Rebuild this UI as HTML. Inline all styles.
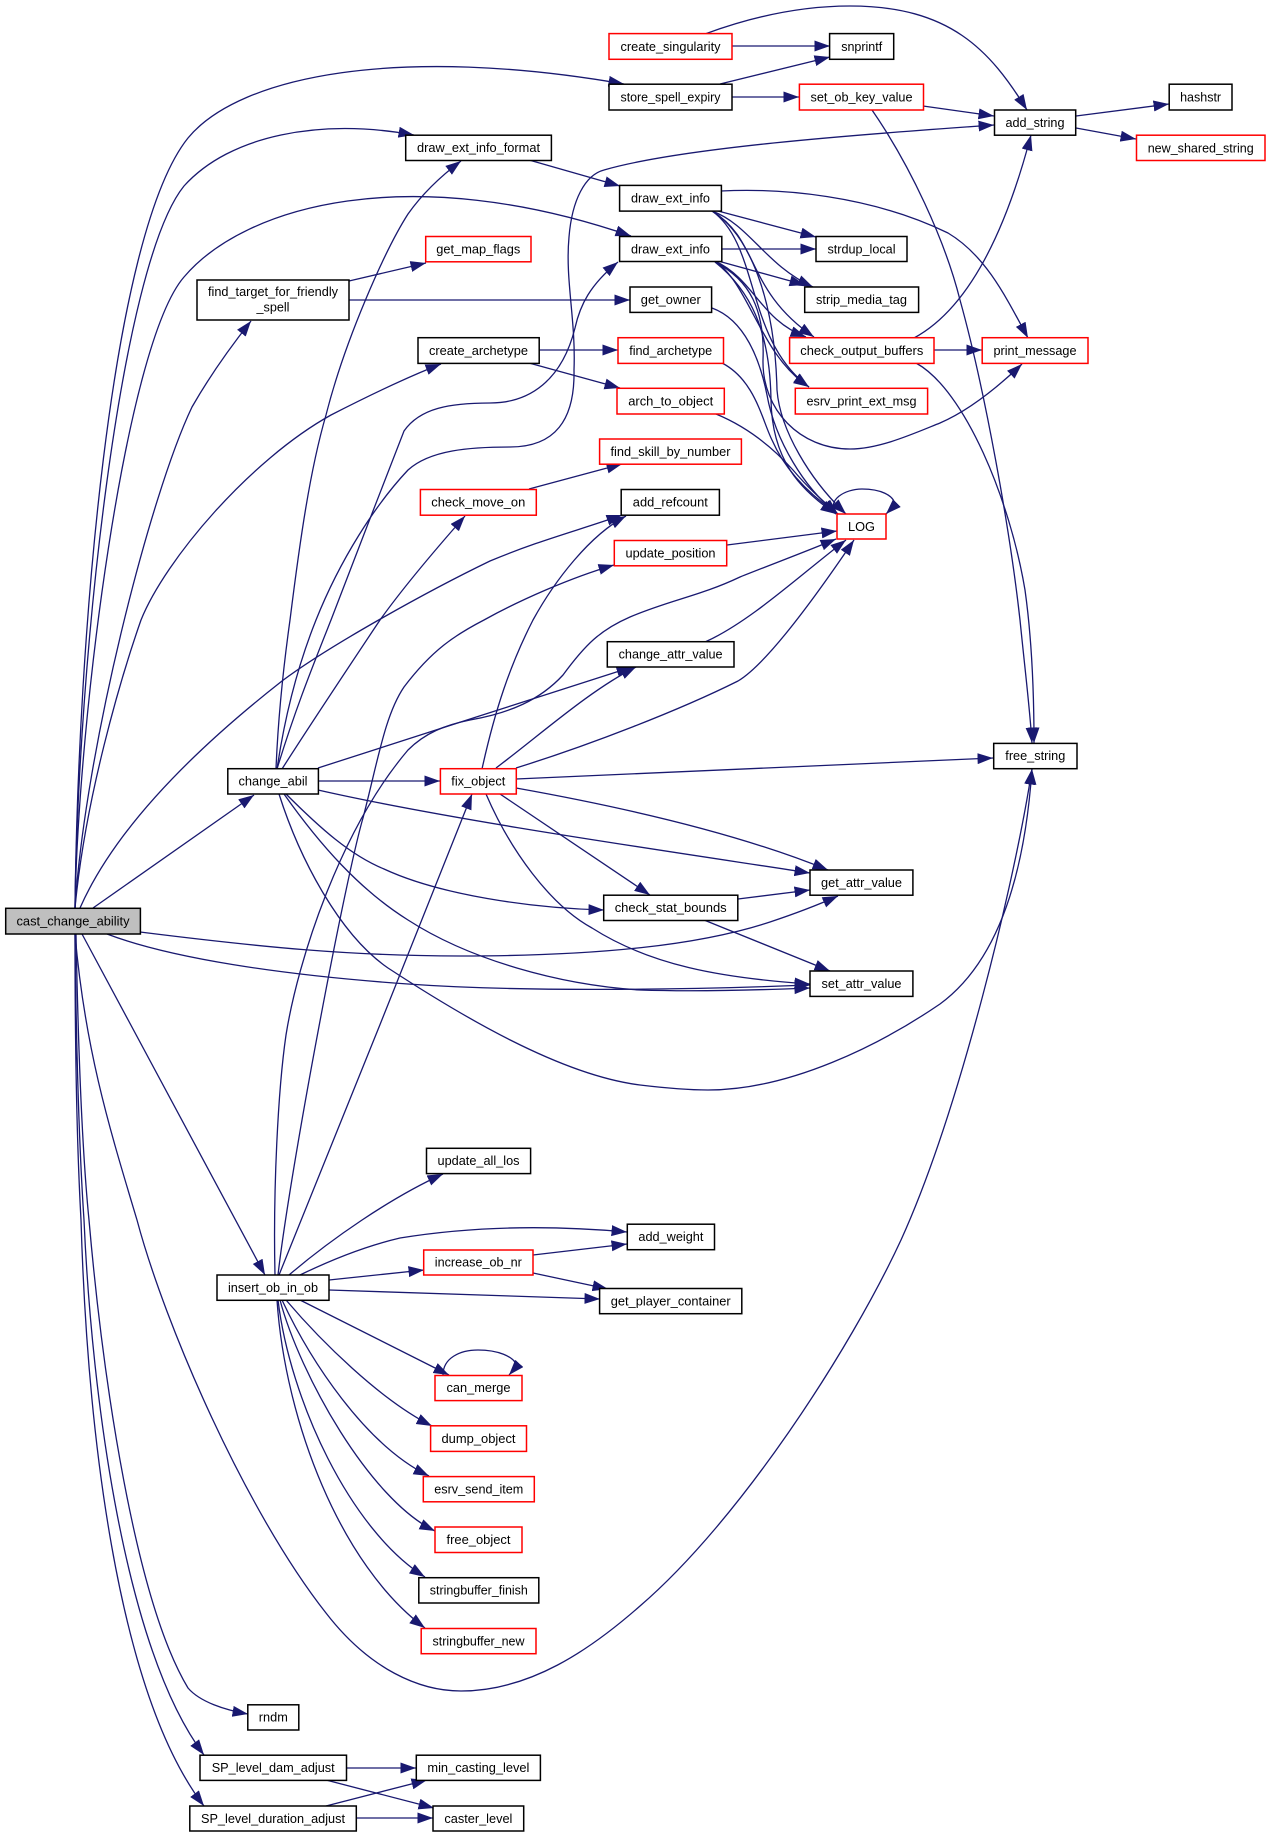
<!DOCTYPE html>
<html>
<head>
<meta charset="utf-8">
<style>
html,body{margin:0;padding:0;background:#fff;width:1269px;height:1837px;overflow:hidden}
svg{display:block;filter:blur(0.35px)}
.e path{fill:none;stroke:#191970;stroke-width:1.3;marker-end:url(#a)}
.n rect{fill:#fff;stroke:#000;stroke-width:1.5}
.r rect{fill:#fff;stroke:#ff0000;stroke-width:1.5}
text{font-family:"Liberation Sans",sans-serif;font-size:13.3px;fill:#000;text-anchor:middle}
</style>
</head>
<body>
<svg xmlns="http://www.w3.org/2000/svg" width="1269" height="1837" viewBox="0 0 1269 1837">
<defs>
<marker id="a" markerUnits="userSpaceOnUse" markerWidth="17" markerHeight="12" refX="15.5" refY="5.5" orient="auto">
<path d="M0 0L15.5 5.5L0 11Z" fill="#191970"/>
</marker>
</defs>
<g class="e">
<!-- cast_change_ability -->
<path d="M75 908C78 640 110 235 188 138C240 75 400 45 624 84"/>
<path d="M75 908C78 660 120 265 184 186C230 135 320 118 414 135"/>
<path d="M75 908C78 720 125 345 184 277C245 205 410 160 631 236"/>
<path d="M75 908C85 750 150 495 192 407C212 372 232 345 251 321"/>
<path d="M75 908C85 800 120 680 141 620C165 560 250 460 331 415C370 395 405 378 441 364"/>
<path d="M80 908C110 840 175 765 282 681C330 645 430 590 490 561C540 540 580 530 622 515"/>
<path d="M93 908L254 795"/>
<path d="M140 932C260 947 350 956 460 956C600 956 700 945 770 922C800 912 820 904 838 896"/>
<path d="M107 934C170 958 280 975 408 984C520 992 680 990 810 985"/>
<path d="M82 934L265 1275"/>
<path d="M75 934C85 1050 110 1130 137 1220C165 1325 245 1510 326 1613C370 1670 420 1691 461 1691C530 1691 590 1650 640 1606C740 1520 850 1350 901 1240C960 1110 1015 880 1032 769"/>
<path d="M76 934C78 1040 82 1150 89 1220C103 1380 135 1600 188 1688C200 1702 225 1710 248 1714"/>
<path d="M75 934C76 1030 78 1130 84 1220C92 1400 125 1650 204 1755"/>
<path d="M75 934C75 1030 76 1130 81 1220C87 1420 115 1690 204 1806"/>
<!-- change_abil -->
<path d="M276 769C278 720 283 670 290 620C300 540 310 470 326 415C345 340 385 250 408 214C425 190 445 173 461 161"/>
<path d="M277 769C295 710 312 668 331 620C350 570 385 480 404 431C420 408 450 403 490 403C530 403 562 380 575 328C580 305 590 285 618 262"/>
<path d="M277 769C285 715 298 665 316 620C340 560 375 505 408 470C430 450 470 447 510 447C555 447 575 420 574 370C576 320 565 280 569 237C572 200 585 175 604 170C680 148 850 135 994 125"/>
<path d="M282 769C310 725 350 665 380 620C405 585 435 550 465 516"/>
<path d="M318 768C380 748 560 690 632 667"/>
<path d="M318 781L440 781"/>
<path d="M318 790C450 820 660 850 810 873"/>
<path d="M286 794C320 828 350 855 384 869C440 895 530 908 604 910"/>
<path d="M284 794C320 845 360 890 408 920C470 960 560 985 640 990C700 992 760 990 810 988"/>
<path d="M279 794C300 860 340 935 388 968C460 1015 560 1075 640 1085C665 1088 690 1090 708 1090C790 1090 880 1045 940 1004C1000 960 1025 870 1032 769"/>
<!-- fix_object -->
<path d="M482 769C495 710 510 665 533 620C555 580 590 535 626 516"/>
<path d="M496 768C540 735 590 690 636 667"/>
<path d="M516 768C590 745 680 710 738 681C765 665 810 605 854 540"/>
<path d="M516 779L993 758"/>
<path d="M516 788C600 803 730 830 828 870"/>
<path d="M500 794L650 895"/>
<path d="M486 794C510 850 550 905 592 928C650 965 720 978 810 984"/>
<path d="M705 642C750 622 800 575 846 540"/>
<!-- insert_ob_in_ob -->
<path d="M279 1275C310 1200 430 900 472 794"/>
<path d="M278 1275C290 1170 345 880 363 818C378 760 385 715 404 687C432 650 455 635 484 620C520 600 570 578 614 565"/>
<path d="M275 1275C273 1190 278 1090 286 1035C298 960 340 830 408 750C425 733 445 725 470 720C510 713 540 700 563 675C585 645 600 630 630 617C670 600 700 596 740 577C770 565 810 550 836 539"/>
<path d="M289 1275C330 1240 390 1198 443 1174"/>
<path d="M300 1275C335 1258 370 1245 400 1238C480 1225 560 1226 627 1232"/>
<path d="M533 1255L627 1244"/>
<path d="M329 1280L424 1270"/>
<path d="M329 1290L600 1299"/>
<path d="M533 1273L608 1289"/>
<path d="M300 1300L449 1375"/>
<path d="M286 1300C320 1340 380 1400 432 1426"/>
<path d="M282 1300C310 1360 365 1445 429 1476"/>
<path d="M280 1300C300 1375 370 1500 435 1531"/>
<path d="M278 1300C290 1400 350 1530 425 1577"/>
<path d="M277 1300C285 1420 340 1565 425 1628"/>
<path d="M443 1375C443 1358 460 1350 478 1350C497 1350 514 1356 517 1366L509 1375"/>
<!-- SP -->
<path d="M346 1768L416 1768"/>
<path d="M326 1780L434 1808"/>
<path d="M326 1806L427 1780"/>
<path d="M356 1818L433 1818"/>
<!-- top right -->
<path d="M732 46L830 46"/>
<path d="M705 34C770 10 820 6 850 6C950 6 990 50 1027 110"/>
<path d="M720 84L830 57"/>
<path d="M732 97L799 97"/>
<path d="M923 106L994 116"/>
<path d="M872 110C910 165 945 240 960 300C985 390 1010 530 1020 620C1025 670 1030 710 1032 743"/>
<path d="M916 363C965 390 1010 500 1025 590C1032 640 1034 700 1034 743"/>
<path d="M914 338C975 305 1010 215 1031 135"/>
<path d="M934 350L982 350"/>
<path d="M1076 116L1169 104"/>
<path d="M1076 128L1136 139"/>
<path d="M529 160L620 186"/>
<path d="M349 281L426 263"/>
<path d="M349 300L630 300"/>
<path d="M539 350L618 350"/>
<path d="M529 363L620 388"/>
<path d="M529 489L622 464"/>
<path d="M727 545L837 531"/>
<path d="M738 899L810 890"/>
<path d="M704 920L830 971"/>
<!-- draw_ext_info 1 -->
<path d="M721 191C780 188 870 195 948 233C985 255 1005 295 1028 338"/>
<path d="M718 211L816 237"/>
<path d="M712 211C750 225 765 265 813 287"/>
<path d="M712 211C760 240 745 290 814 337"/>
<path d="M712 211C750 235 775 300 777 390C780 430 810 480 846 514"/>
<path d="M712 211C760 245 745 340 809 387"/>
<!-- draw_ext_info 2 -->
<path d="M722 249L816 249"/>
<path d="M718 261L805 285"/>
<path d="M715 261C755 280 760 320 806 337"/>
<path d="M715 261C750 285 760 355 809 387"/>
<path d="M715 262C750 280 765 310 763 360C762 410 800 449 850 449C880 449 915 433 940 423C970 410 1000 385 1022 364"/>
<path d="M715 262C750 290 770 330 771 400C772 460 800 490 836 514"/>
<!-- to LOG -->
<path d="M712 308C745 320 760 360 767 395C775 440 805 490 838 514"/>
<path d="M722 363C755 380 762 420 772 440C785 470 810 495 838 514"/>
<path d="M716 414C750 428 775 450 793 470C810 490 822 500 838 514"/>
<path d="M836 514C826 500 845 489 862 489C880 489 894 495 895 505L886 514"/>
</g>
<g class="r">
<rect x="609" y="33.6" width="123" height="25.7"/><text x="670.5" y="51" textLength="100" lengthAdjust="spacingAndGlyphs">create_singularity</text>
<rect x="799.4" y="84.2" width="124.1" height="25.8"/><text x="861.5" y="101.5" textLength="102" lengthAdjust="spacingAndGlyphs">set_ob_key_value</text>
<rect x="1136.5" y="135.2" width="128.5" height="25.3"/><text x="1200.7" y="152.5" textLength="106" lengthAdjust="spacingAndGlyphs">new_shared_string</text>
<rect x="425.7" y="236.5" width="105.3" height="25.3"/><text x="478.3" y="253.5" textLength="84" lengthAdjust="spacingAndGlyphs">get_map_flags</text>
<rect x="618" y="337.7" width="105.5" height="25.7"/><text x="670.7" y="355" textLength="83" lengthAdjust="spacingAndGlyphs">find_archetype</text>
<rect x="617" y="388.3" width="107.3" height="25.7"/><text x="670.7" y="405.5" textLength="85" lengthAdjust="spacingAndGlyphs">arch_to_object</text>
<rect x="789.6" y="337.7" width="144.4" height="25.7"/><text x="861.8" y="355" textLength="123" lengthAdjust="spacingAndGlyphs">check_output_buffers</text>
<rect x="982.2" y="337.7" width="105.8" height="25.7"/><text x="1035" y="355" textLength="83" lengthAdjust="spacingAndGlyphs">print_message</text>
<rect x="795.3" y="388.3" width="132.3" height="25.7"/><text x="861.5" y="405.5" textLength="110" lengthAdjust="spacingAndGlyphs">esrv_print_ext_msg</text>
<rect x="599.6" y="439" width="141.8" height="25.2"/><text x="670.5" y="456" textLength="120" lengthAdjust="spacingAndGlyphs">find_skill_by_number</text>
<rect x="420.4" y="489.5" width="115.9" height="25.7"/><text x="478.3" y="506.5" textLength="94" lengthAdjust="spacingAndGlyphs">check_move_on</text>
<rect x="614.3" y="540.5" width="112.4" height="25.3"/><text x="670.5" y="557.5" textLength="90" lengthAdjust="spacingAndGlyphs">update_position</text>
<rect x="837" y="514" width="49" height="25"/><text x="861.5" y="531" textLength="27" lengthAdjust="spacingAndGlyphs">LOG</text>
<rect x="440.4" y="768.7" width="75.9" height="25.3"/><text x="478.3" y="785.5" textLength="54" lengthAdjust="spacingAndGlyphs">fix_object</text>
<rect x="423.7" y="1250" width="109.3" height="25"/><text x="478.3" y="1266.5" textLength="87" lengthAdjust="spacingAndGlyphs">increase_ob_nr</text>
<rect x="435" y="1375.5" width="87" height="25.1"/><text x="478.5" y="1392" textLength="64" lengthAdjust="spacingAndGlyphs">can_merge</text>
<rect x="430.6" y="1425.8" width="95.9" height="25.6"/><text x="478.5" y="1443" textLength="74" lengthAdjust="spacingAndGlyphs">dump_object</text>
<rect x="423.3" y="1476.6" width="111" height="25.2"/><text x="478.8" y="1493.5" textLength="89" lengthAdjust="spacingAndGlyphs">esrv_send_item</text>
<rect x="435" y="1527" width="87" height="25.5"/><text x="478.5" y="1544" textLength="64" lengthAdjust="spacingAndGlyphs">free_object</text>
<rect x="421.2" y="1628.5" width="114.8" height="25.2"/><text x="478.5" y="1645.5" textLength="92" lengthAdjust="spacingAndGlyphs">stringbuffer_new</text>
</g>
<g class="n">
<rect x="609" y="84.2" width="123" height="25.8"/><text x="670.5" y="101.5" textLength="100" lengthAdjust="spacingAndGlyphs">store_spell_expiry</text>
<rect x="829.6" y="33.6" width="64.1" height="25.7"/><text x="861.7" y="51" textLength="41" lengthAdjust="spacingAndGlyphs">snprintf</text>
<rect x="994.5" y="110" width="81.2" height="25.2"/><text x="1035" y="127" textLength="59" lengthAdjust="spacingAndGlyphs">add_string</text>
<rect x="1169.2" y="84.2" width="62.8" height="25.8"/><text x="1200.6" y="101.5" textLength="41" lengthAdjust="spacingAndGlyphs">hashstr</text>
<rect x="405.7" y="135.2" width="145.7" height="25.3"/><text x="478.5" y="152" textLength="123" lengthAdjust="spacingAndGlyphs">draw_ext_info_format</text>
<rect x="619.6" y="185.4" width="101.8" height="25.7"/><text x="670.5" y="202.5" textLength="79" lengthAdjust="spacingAndGlyphs">draw_ext_info</text>
<rect x="619.6" y="236.5" width="102.2" height="25"/><text x="670.5" y="253.5" textLength="79" lengthAdjust="spacingAndGlyphs">draw_ext_info</text>
<rect x="816" y="236.5" width="91" height="25"/><text x="861.5" y="253.5" textLength="68" lengthAdjust="spacingAndGlyphs">strdup_local</text>
<rect x="197" y="280" width="152" height="40"/><text x="273" y="296" textLength="130" lengthAdjust="spacingAndGlyphs">find_target_for_friendly</text><text x="273" y="311.5" textLength="33" lengthAdjust="spacingAndGlyphs">_spell</text>
<rect x="630" y="287" width="81.6" height="25.4"/><text x="670.8" y="304" textLength="60" lengthAdjust="spacingAndGlyphs">get_owner</text>
<rect x="804.7" y="287" width="113.9" height="25.4"/><text x="861.5" y="304" textLength="91" lengthAdjust="spacingAndGlyphs">strip_media_tag</text>
<rect x="418" y="337.7" width="121.2" height="25.7"/><text x="478.5" y="355" textLength="99" lengthAdjust="spacingAndGlyphs">create_archetype</text>
<rect x="621.2" y="489.5" width="98.2" height="25.7"/><text x="670.3" y="506.5" textLength="75" lengthAdjust="spacingAndGlyphs">add_refcount</text>
<rect x="607.3" y="641.7" width="126.7" height="25.3"/><text x="670.6" y="658.5" textLength="104" lengthAdjust="spacingAndGlyphs">change_attr_value</text>
<rect x="993.7" y="743.4" width="83.3" height="25.3"/><text x="1035.3" y="760" textLength="60" lengthAdjust="spacingAndGlyphs">free_string</text>
<rect x="227.8" y="768.7" width="90.6" height="25.3"/><text x="273" y="785.5" textLength="69" lengthAdjust="spacingAndGlyphs">change_abil</text>
<rect x="810" y="870" width="102.9" height="25.2"/><text x="861.5" y="887" textLength="81" lengthAdjust="spacingAndGlyphs">get_attr_value</text>
<rect x="603.7" y="895.2" width="134.1" height="25.3"/><text x="670.7" y="912" textLength="112" lengthAdjust="spacingAndGlyphs">check_stat_bounds</text>
<rect x="5.7" y="908.3" width="134.7" height="25.7" style="fill:#bfbfbf"/><text x="73" y="925.5" textLength="113" lengthAdjust="spacingAndGlyphs">cast_change_ability</text>
<rect x="810" y="971" width="102.9" height="25.4"/><text x="861.5" y="988" textLength="80" lengthAdjust="spacingAndGlyphs">set_attr_value</text>
<rect x="426.5" y="1148.3" width="104.1" height="25.3"/><text x="478.5" y="1165" textLength="82" lengthAdjust="spacingAndGlyphs">update_all_los</text>
<rect x="627.3" y="1224.2" width="87.2" height="25.5"/><text x="670.9" y="1241" textLength="65" lengthAdjust="spacingAndGlyphs">add_weight</text>
<rect x="217" y="1275" width="112" height="25.3"/><text x="273" y="1292" textLength="90" lengthAdjust="spacingAndGlyphs">insert_ob_in_ob</text>
<rect x="599.6" y="1288.5" width="142.2" height="25.2"/><text x="670.7" y="1305.5" textLength="120" lengthAdjust="spacingAndGlyphs">get_player_container</text>
<rect x="418.8" y="1577.7" width="120" height="25.3"/><text x="478.8" y="1594.5" textLength="98" lengthAdjust="spacingAndGlyphs">stringbuffer_finish</text>
<rect x="247.8" y="1704.8" width="51" height="25.2"/><text x="273.3" y="1721.5" textLength="29" lengthAdjust="spacingAndGlyphs">rndm</text>
<rect x="200" y="1755.2" width="146.5" height="25.2"/><text x="273.2" y="1772" textLength="123" lengthAdjust="spacingAndGlyphs">SP_level_dam_adjust</text>
<rect x="416.3" y="1755.2" width="124.1" height="25.2"/><text x="478.4" y="1772" textLength="102" lengthAdjust="spacingAndGlyphs">min_casting_level</text>
<rect x="189.8" y="1806" width="166.5" height="25"/><text x="273" y="1823" textLength="144" lengthAdjust="spacingAndGlyphs">SP_level_duration_adjust</text>
<rect x="433" y="1806" width="90.7" height="25"/><text x="478.4" y="1823" textLength="68" lengthAdjust="spacingAndGlyphs">caster_level</text>
</g>
</svg>
</body>
</html>
